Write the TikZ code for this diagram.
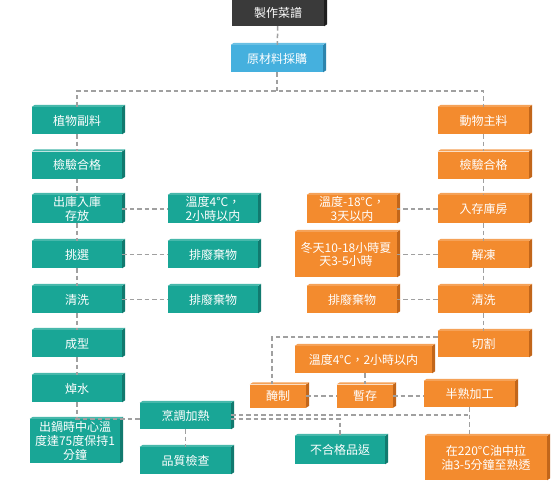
\documentclass[tikz,border=0pt]{standalone}
\usepackage{fontspec}
\setmainfont{Noto Sans CJK TC}
\definecolor{tealF}{HTML}{19A696}
\definecolor{tealS}{HTML}{117A6F}
\definecolor{orgF}{HTML}{F38B2E}
\definecolor{orgS}{HTML}{C2661A}
\definecolor{bluF}{HTML}{45B0DE}
\definecolor{bluS}{HTML}{2C84AD}
\definecolor{drkF}{HTML}{3A3A3A}
\definecolor{drkS}{HTML}{1E1E1E}
\definecolor{lineC}{HTML}{A0A0A0}
\begin{document}
\begin{tikzpicture}[x=1pt,y=-1pt,
  bx/.style={rectangle, inner sep=0pt, align=center, text=white,
    font=\fontsize{12}{13.6}\selectfont, minimum width=90pt, minimum height=27pt},
  tl/.style={bx, fill=tealF},
  og/.style={bx, fill=orgF},
  conn/.style={draw=lineC, line width=1.5pt, dash pattern=on 4.5pt off 3pt}]
\fill[white] (0,0) rectangle (560,480);
\useasboundingbox (0,0) rectangle (560,480);

% top
\node[bx, fill=drkF, minimum width=92pt, minimum height=26pt] (top) at (278,13) {製作菜譜};
\node[bx, fill=bluF, minimum width=92pt, minimum height=27pt] (buy) at (277,58.5) {原材料採購};

% left column
\node[tl] (L1) at (77,120.5) {植物副料};
\node[tl] (L2) at (77,165) {檢驗合格};
\node[tl, minimum height=28pt] (L3) at (77,209) {出庫入庫\\存放};
\node[tl] (L4) at (77,254.5) {挑選};
\node[tl] (L5) at (77,299.5) {清洗};
\node[tl] (L6) at (77,343.5) {成型};
\node[tl] (L7) at (77,388.5) {焯水};
\node[tl, minimum height=44pt] (L8) at (75,441) {出鍋時中心溫\\度達75度保持1\\分鐘};
\node[tl, minimum height=28pt] (S1) at (213,209) {溫度4°C，\\2小時以内};
\node[tl] (S2) at (213,254.5) {排廢棄物};
\node[tl] (S3) at (213,299.5) {排廢棄物};
\node[tl, minimum width=91pt, minimum height=26pt] (cook) at (185.5,416) {烹調加熱};
\node[tl, minimum width=91pt] (check) at (185.5,460.5) {品質檢查};
\node[tl, minimum height=28pt] (reject) at (340,450) {不合格品返};

% right column
\node[og, minimum width=91pt] (R1) at (483.5,120.5) {動物主料};
\node[og, minimum width=91pt] (R2) at (483.5,165) {檢驗合格};
\node[og, minimum width=91pt, minimum height=28pt] (R3) at (483.5,209) {入存庫房};
\node[og, minimum width=91pt] (R4) at (483.5,254.5) {解凍};
\node[og, minimum width=91pt] (R5) at (483.5,299.5) {清洗};
\node[og, minimum width=91pt, minimum height=26pt] (R6) at (483.5,344) {切割};
\node[og, minimum height=28pt] (T1) at (352,209) {溫度-18°C，\\3天以内};
\node[og, minimum width=102pt, minimum height=45pt] (T2) at (346,254.5) {冬天10-18小時夏\\天3-5小時};
\node[og] (T3) at (352,299.5) {排廢棄物};
\node[og, minimum width=137pt] (temp) at (363.5,359.5) {溫度4°C，2小時以内};
\node[og, minimum width=56pt, minimum height=23pt] (mar) at (278,396) {醃制};
\node[og, minimum width=56pt, minimum height=23pt] (store) at (365,396) {暫存};
\node[og, minimum width=91pt, minimum height=26pt] (semi) at (469.5,394) {半熟加工};
\node[og, minimum width=122pt, minimum height=44pt] (fry) at (486,458) {在220°C油中拉\\油3-5分鐘至熟透};

% 3D sides
\foreach \n/\f/\c in {top/drkF/drkS, buy/bluF/bluS, L1/tealF/tealS, L2/tealF/tealS, L3/tealF/tealS,
  L4/tealF/tealS, L5/tealF/tealS, L6/tealF/tealS, L7/tealF/tealS, L8/tealF/tealS, S1/tealF/tealS,
  S2/tealF/tealS, S3/tealF/tealS, cook/tealF/tealS, check/tealF/tealS, reject/tealF/tealS,
  R1/orgF/orgS, R2/orgF/orgS, R3/orgF/orgS, R4/orgF/orgS, R5/orgF/orgS, R6/orgF/orgS,
  T1/orgF/orgS, T2/orgF/orgS, T3/orgF/orgS, temp/orgF/orgS, mar/orgF/orgS, store/orgF/orgS,
  semi/orgF/orgS, fry/orgF/orgS} {
  \fill[\c] (\n.north east) -- ++(3,-2) -- ([shift={(3,-2)}]\n.south east) -- (\n.south east) -- cycle;
  \fill[\f!80!white] (\n.north west) -- ++(3,-2) -- ([shift={(3,-2)}]\n.north east) -- (\n.north east) -- cycle;
}

% connectors
\coordinate (hub) at (277,91);
\draw[conn] (top) -- (buy);
\draw[conn] (buy) -- (hub);
\draw[conn] (L1.north) |- (hub) -| (R1.north);
\draw[conn] (L1) -- (L2);
\draw[conn] (L2) -- (L3);
\draw[conn] (L3) -- (L4);
\draw[conn] (L4) -- (L5);
\draw[conn] (L5) -- (L6);
\draw[conn] (L6) -- (L7);
\draw[conn] (L7.south) -- (L7.south |- L8.north);
\draw[conn] (L3) -- (S1);
\draw[conn] (L4) -- (S2);
\draw[conn] (L5) -- (S3);
\draw[conn] (L8.north) -- (L8.north -| cook.west);
\draw[conn] (cook) -- (check);

\draw[conn] (R1) -- (R2);
\draw[conn] (R2) -- (R3);
\draw[conn] (R3) -- (R4);
\draw[conn] (R4) -- (R5);
\draw[conn] (R5) -- (R6);
\draw[conn] (R3) -- (T1);
\draw[conn] (R4) -- (T2);
\draw[conn] (R5) -- (T3);

\coordinate (c1) at ([yshift=-6pt]R6.north west);
\coordinate (m1) at ([xshift=-6pt]mar.north);
\draw[conn] (c1) -| (m1);
\draw[conn] (temp.south -| store.north) -- (store.north);
\draw[conn] (mar) -- (store);
\draw[conn] (store) -- (semi.west |- store.east);
\draw[conn] (semi.south) -- (semi.south |- fry.north);

\coordinate (u1) at ([yshift=1pt]cook.east);
\coordinate (l1) at ([yshift=-3pt]cook.east);
\draw[conn] (u1) -- (u1 -| semi.south);
\draw[conn] (l1) -| (reject.north);
\end{tikzpicture}
\end{document}
